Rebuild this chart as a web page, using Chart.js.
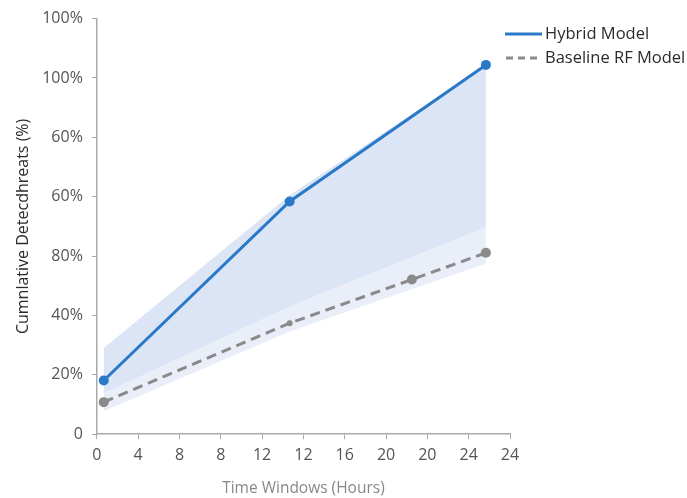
<!DOCTYPE html>
<html>
<head>
<meta charset="utf-8">
<script src="https://cdn.jsdelivr.net/npm/chart.js@4/dist/chart.umd.min.js"></script>
<style>
  html, body { margin: 0; padding: 0; background: #fff; }
  #wrap { width: 687px; height: 498px; position: relative; }
</style>
</head>
<body>
<div id="wrap"><canvas id="threatChart"></canvas></div>
<script>
// tick labels as printed on the axes
const xTickLabels = ["0", "4", "8", "8", "12", "12", "16", "20", "20", "24", "24"];
const yTickLabels = ["0", "20%", "40%", "80%", "60%", "60%", "100%", "100%"];

// series
const hybridHours = [0.4, 11.2, 22.6];
const hybridValues = [18.1, 78.4, 124.4];
const baselineHours = [0.4, 11.2, 18.3, 22.6];
const baselineValues = [10.8, 37.4, 52.1, 61.1];

// shaded bands
const bandHours = [0.4, 11.2, 22.6];
const bandLightLower = [7.7, 34.6, 57.5];
const bandDarkLower = [13.8, 43.0, 69.8];
const bandDarkUpper = [29.0, 80.5, 124.4];

const legendItems = ["Hybrid Model", "Baseline RF Model"];

function pts(xs, ys) {
  return xs.map((x, i) => ({ x: x, y: ys[i] }));
}

const legendPlugin = {
  id: "lineLegend",
  afterDraw(chart) {
    const ctx = chart.ctx;
    ctx.save();
    ctx.font = "16.5px 'Open Sans'";
    ctx.fillStyle = "#2b2b2b";
    ctx.textBaseline = "middle";
    // hybrid
    ctx.strokeStyle = "#2a78c8";
    ctx.lineWidth = 3;
    ctx.beginPath();
    ctx.moveTo(505, 34);
    ctx.lineTo(542, 34);
    ctx.stroke();
    ctx.fillText(legendItems[0], 545, 34);
    // baseline
    ctx.strokeStyle = "#8a8a8a";
    ctx.setLineDash([7, 5]);
    ctx.beginPath();
    ctx.moveTo(506, 58);
    ctx.lineTo(542, 58);
    ctx.stroke();
    ctx.setLineDash([]);
    ctx.fillText(legendItems[1], 545, 58);
    ctx.restore();
  }
};

const ctx = document.getElementById("threatChart").getContext("2d");
const chart = new Chart(ctx, {
  type: "line",
  data: {
    datasets: [
      {
        label: "lightLower",
        data: pts(bandHours, bandLightLower),
        borderWidth: 0,
        pointRadius: 0,
        fill: false,
        order: 5,
      },
      {
        label: "darkLower",
        data: pts(bandHours, bandDarkLower),
        borderWidth: 0,
        pointRadius: 0,
        backgroundColor: "rgba(225, 232, 247, 0.75)",
        fill: "-1",
        order: 4,
      },
      {
        label: "darkUpper",
        data: pts(bandHours, bandDarkUpper),
        borderWidth: 0,
        pointRadius: 0,
        backgroundColor: "rgba(200, 215, 240, 0.65)",
        fill: "-1",
        order: 3,
      },
      {
        label: "Baseline RF Model",
        data: pts(baselineHours, baselineValues),
        borderColor: "#8a8a8a",
        borderWidth: 3,
        borderDash: [10, 6],
        pointRadius: [5, 3, 5, 5],
        pointBackgroundColor: "#8a8a8a",
        pointBorderWidth: 0,
        fill: false,
        order: 2,
      },
      {
        label: "Hybrid Model",
        data: pts(hybridHours, hybridValues),
        borderColor: "#2a78c8",
        borderWidth: 3,
        pointRadius: 5,
        pointBackgroundColor: "#2a78c8",
        pointBorderWidth: 0,
        fill: false,
        order: 1,
      },
    ],
  },
  options: {
    responsive: true,
    maintainAspectRatio: false,
    animation: false,
    layout: {
      padding: { top: 8, right: 177, left: 10, bottom: 0 },
    },
    plugins: {
      legend: { display: false },
      tooltip: { enabled: false },
    },
    scales: {
      x: {
        type: "linear",
        min: 0,
        max: 24,
        afterBuildTicks(scale) {
          scale.ticks = xTickLabels.map((_, i) => ({ value: i * 2.4 }));
        },
        ticks: {
          callback: (v, i) => xTickLabels[i],
          autoSkip: false,
          maxRotation: 0,
          color: "#555",
          font: { family: "Open Sans", size: 16 },
          padding: 7,
        },
        grid: {
          drawOnChartArea: false,
          drawTicks: true,
          tickLength: 5,
          color: "#aaa",
        },
        border: { color: "#aaa", width: 1.5 },
        title: {
          display: true,
          text: "Time Windows (Hours)",
          color: "#888",
          font: { family: "Open Sans", size: 15.5 },
          padding: { top: 7, bottom: 0 },
        },
      },
      y: {
        min: 0,
        max: 140,
        afterBuildTicks(scale) {
          scale.ticks = yTickLabels.map((_, i) => ({ value: i * 20 }));
        },
        ticks: {
          callback: (v, i) => yTickLabels[i],
          autoSkip: false,
          color: "#555",
          font: { family: "Open Sans", size: 16 },
          padding: 9,
        },
        grid: {
          drawOnChartArea: false,
          drawTicks: true,
          tickLength: 5,
          color: "#aaa",
        },
        border: { color: "#aaa", width: 1.5 },
        title: {
          display: true,
          text: "Cumnlative Detecdhreats (%)",
          color: "#2b2b2b",
          font: { family: "Open Sans", size: 16 },
          padding: { top: 4, bottom: 0 },
        },
      },
    },
  },
  plugins: [legendPlugin],
});
</script>
</body>
</html>
